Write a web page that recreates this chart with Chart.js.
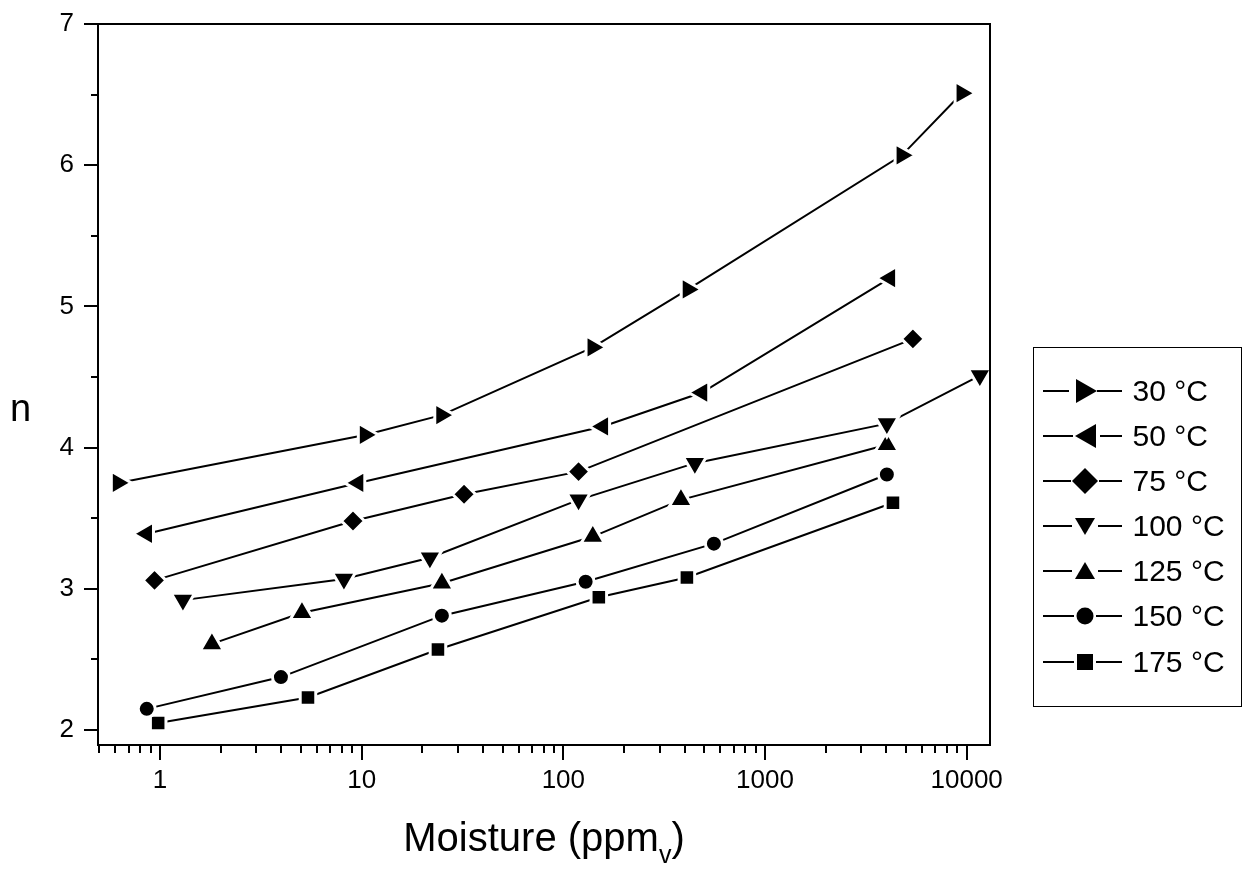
<!DOCTYPE html>
<html>
<head>
<meta charset="utf-8">
<script src="https://cdn.jsdelivr.net/npm/chart.js@4/dist/chart.umd.min.js"></script>
<style>
  html, body { margin: 0; padding: 0; background: #fff; }
  #wrap { position: relative; width: 1243px; height: 877px; font-family: "Liberation Sans", Arial, sans-serif; color: #000; }
  #c { position: absolute; left: 0; top: 0; }
  #ylab { position: absolute; left: 10px; top: 389px; font-size: 38px; line-height: 38px; }
  #xlab { position: absolute; left: 98px; width: 892px; top: 817px; text-align: center; font-size: 40px; line-height: 40px; }
  #xlab sub { font-size: 25px; vertical-align: -12px; line-height: 0; }
  #legend { position: absolute; left: 1033px; top: 347px; width: 207px; height: 358px; border: 1.5px solid #000; }
  .row { position: absolute; left: 8.5px; height: 40px; display: flex; align-items: center; }
  .row svg { display: block; }
  .row span { font-size: 30px; white-space: nowrap; }
</style>
</head>
<body>
<div id="wrap">
  <canvas id="c" width="1243" height="877"></canvas>
  <div id="ylab">n</div>
  <div id="xlab">Moisture (ppm<sub>v</sub>)</div>
  <div id="legend"></div>
</div>
<script>
// ---- data (moisture in ppmv, n) ----
const seriesLabels = ["30 °C", "50 °C", "75 °C", "100 °C", "125 °C", "150 °C", "175 °C"];
const x30  = [0.62, 10.4, 24.9, 140, 415, 4770, 9460];
const n30  = [3.75, 4.09, 4.23, 4.71, 5.12, 6.07, 6.51];
const x50  = [0.86, 9.6, 157, 487, 4160];
const n50  = [3.39, 3.75, 4.15, 4.39, 5.20];
const x75  = [0.94, 9.06, 32.2, 119, 5410];
const n75  = [3.06, 3.48, 3.67, 3.83, 4.77];
const x100 = [1.30, 8.17, 21.8, 119, 449, 4020, 11620];
const n100 = [2.92, 3.07, 3.22, 3.63, 3.89, 4.17, 4.51];
const x125 = [1.81, 5.06, 25, 140, 383, 4020];
const n125 = [2.61, 2.83, 3.04, 3.37, 3.63, 4.02];
const x150 = [0.86, 3.98, 25, 129, 558, 4020];
const n150 = [2.15, 2.375, 2.81, 3.05, 3.32, 3.81];
const x175 = [0.98, 5.42, 23.9, 150, 410, 4310];
const n175 = [2.05, 2.23, 2.57, 2.94, 3.08, 3.61];

const xTickVals = [1, 10, 100, 1000, 10000];
const xMinorVals = [0.5,0.6,0.7,0.8,0.9,2,3,4,5,6,7,8,9,20,30,40,50,60,70,80,90,200,300,400,500,600,700,800,900,2000,3000,4000,5000,6000,7000,8000,9000];
const yTickVals = [2, 3, 4, 5, 6, 7];
const yMinorVals = [2.5, 3.5, 4.5, 5.5, 6.5];

const xs = [x30, x50, x75, x100, x125, x150, x175];
const ns = [n30, n50, n75, n100, n125, n150, n175];
const styles = [
  {pointStyle: 'triangle', rotation: 90, radius: 13.5},
  {pointStyle: 'triangle', rotation: -90, radius: 13.5},
  {pointStyle: 'rectRot', rotation: 0, radius: 11.5},
  {pointStyle: 'triangle', rotation: 180, radius: 13.5},
  {pointStyle: 'triangle', rotation: 0, radius: 13.5},
  {pointStyle: 'circle', rotation: 0, radius: 8.5},
  {pointStyle: 'rect', rotation: 0, radius: 11}
];

const datasets = xs.map((xv, i) => ({
  label: seriesLabels[i],
  data: xv.map((v, j) => ({x: v, y: ns[i][j]})),
  borderColor: '#000',
  borderWidth: 2,
  backgroundColor: '#000',
  pointBackgroundColor: '#000',
  pointBorderColor: '#fff',
  pointBorderWidth: 3,
  pointStyle: styles[i].pointStyle,
  pointRotation: styles[i].rotation,
  pointRadius: styles[i].radius,
  pointHoverRadius: styles[i].radius,
  tension: 0,
  fill: false,
  showLine: true
}));

const frame = {
  id: 'frame',
  afterDraw(chart) {
    const ctx = chart.ctx, a = chart.chartArea;
    const sx = chart.scales.x, sy = chart.scales.y;
    ctx.save();
    ctx.strokeStyle = '#000';
    ctx.lineWidth = 2;
    ctx.strokeRect(a.left, a.top, a.right - a.left, a.bottom - a.top);
    ctx.beginPath();
    yTickVals.forEach(v => { const p = Math.round(sy.getPixelForValue(v)); ctx.moveTo(a.left - 14, p); ctx.lineTo(a.left, p); });
    yMinorVals.forEach(v => { const p = Math.round(sy.getPixelForValue(v)); ctx.moveTo(a.left - 7, p); ctx.lineTo(a.left, p); });
    xTickVals.forEach(v => { const p = Math.round(sx.getPixelForValue(v)); ctx.moveTo(p, a.bottom); ctx.lineTo(p, a.bottom + 15); });
    xMinorVals.forEach(v => { const p = Math.round(sx.getPixelForValue(v)); ctx.moveTo(p, a.bottom); ctx.lineTo(p, a.bottom + 8); });
    ctx.stroke();
    ctx.restore();
  }
};

new Chart(document.getElementById('c'), {
  type: 'scatter',
  data: { datasets },
  options: {
    responsive: false,
    animation: false,
    events: [],
    layout: { padding: { top: 24, right: 253, left: 0, bottom: 0 } },
    plugins: { legend: { display: false }, tooltip: { enabled: false } },
    scales: {
      x: {
        type: 'logarithmic',
        min: 0.493, max: 13050,
        border: { display: false },
        grid: { display: false, drawTicks: false },
        afterBuildTicks: s => { s.ticks = xTickVals.map(v => ({value: v})); },
        afterFit: s => { s.height = 132; s.paddingLeft = 0; s.paddingRight = 0; },
        ticks: {
          autoSkip: false, maxRotation: 0, minRotation: 0,
          padding: 20, color: '#000',
          font: { family: '"Liberation Sans", Arial, sans-serif', size: 26 },
          callback: v => String(v)
        }
      },
      y: {
        min: 1.894, max: 7,
        border: { display: false },
        grid: { display: false, drawTicks: false },
        afterBuildTicks: s => { s.ticks = yTickVals.map(v => ({value: v})); },
        afterFit: s => { s.width = 98; s.paddingTop = 0; s.paddingBottom = 0; },
        ticks: {
          autoSkip: false, padding: 24, color: '#000',
          font: { family: '"Liberation Sans", Arial, sans-serif', size: 26 },
          callback: v => String(v)
        }
      }
    }
  },
  plugins: [frame]
});

// ---- legend (HTML) ----
const shapes = [
  '<polygon points="33,3 33,27 54,15" />',
  '<polygon points="53,3 53,27 32,15" />',
  '<polygon points="42,2 55,15 42,28 29,15" />',
  '<polygon points="32,7 52,7 42,24" />',
  '<polygon points="32,23 52,23 42,6" />',
  '<circle cx="42" cy="15" r="8.5" />',
  '<rect x="34" y="7" width="16" height="16" />'
];
const segs = [[0, 26, 54, 79], [0, 30, 57, 79], [0, 28, 56, 79], [0, 29, 55, 79], [0, 29, 55, 79], [0, 31, 53, 79], [0, 31, 53, 79]];
const rowCenters = [391.7, 436.7, 481, 526, 571, 616.5, 662];
const leg = document.getElementById('legend');
seriesLabels.forEach((lab, i) => {
  const row = document.createElement('div');
  row.className = 'row';
  row.style.top = (rowCenters[i] - 347 - 1.5 - 20) + 'px';
  const s = segs[i];
  row.innerHTML = '<svg width="90" height="30" viewBox="0 0 90 30">' +
    '<line x1="' + s[0] + '" y1="15" x2="' + s[1] + '" y2="15" stroke="#000" stroke-width="2"/>' +
    '<line x1="' + s[2] + '" y1="15" x2="' + s[3] + '" y2="15" stroke="#000" stroke-width="2"/>' +
    '<g fill="#000">' + shapes[i] + '</g></svg><span>' + lab + '</span>';
  leg.appendChild(row);
});
</script>
</body>
</html>
